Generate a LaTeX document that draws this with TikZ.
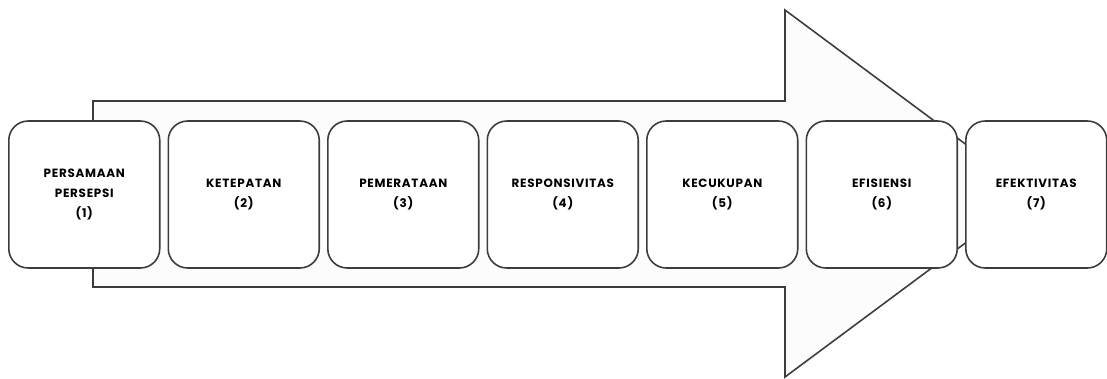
\documentclass[tikz,border=0pt]{standalone}
\usepackage{fontspec}
\usetikzlibrary{positioning}
\newfontfamily\stepfont[LetterSpace=6]{Poppins}
\definecolor{lineGrey}{RGB}{60,60,60}
\definecolor{arrowFill}{RGB}{252,252,252}
\tikzset{
  stage/.style={draw=lineGrey, fill=white, rounded corners=11pt, line width=0.9pt,
                minimum width=3.02cm, minimum height=2.94cm, align=center,
                font=\stepfont\bfseries\fontsize{6.8}{11.4}\selectfont, inner sep=2pt},
  bigarrow/.style={draw=lineGrey, fill=arrowFill, line width=0.9pt, line join=miter},
}

\begin{document}
\begin{tikzpicture}[x=0.02cm, y=-0.02cm]
\useasboundingbox (0,0) rectangle (1107,379);

% the arrow behind the stages
\coordinate (tail top) at (93,101);
\coordinate (tail bot) at (93,287);
\coordinate (tip) at (1032,193.5);
\draw[bigarrow] (tail top) -- (785,101) -- (785,10) -- (tip)
  -- (785,377) -- (785,287) -- (tail bot) -- cycle;

% stages: {name}{x of left edge}{text}
\foreach \n/\xx/\txt in {1/8/{PERSAMAAN\\PERSEPSI\\(1)}, 2/167.5/{KETEPATAN\\(2)},
    3/327/{PEMERATAAN\\(3)}, 4/486.5/{RESPONSIVITAS\\(4)},
    5/646/{KECUKUPAN\\(5)}, 6/805.5/{EFISIENSI\\(6)}}
  \node[stage, anchor=west] (b\n) at (\xx,194.5) {\txt};
\node[stage, anchor=west, minimum width=2.82cm] (b7) at (965,194.5) {EFEKTIVITAS\\(7)};
\end{tikzpicture}
\end{document}
